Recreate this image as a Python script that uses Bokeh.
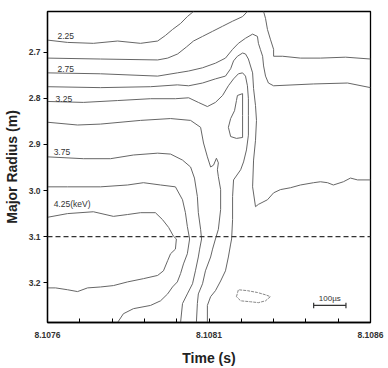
from bokeh.plotting import figure
from bokeh.models import Range1d, FixedTicker, PrintfTickFormatter, Span
from bokeh.embed import file_html
from bokeh.resources import INLINE
from bokeh.core.properties import value

# ---- axis data ----
x_ticks = [8.1076, 8.1081, 8.1086]
x_minor = [8.1077, 8.1078, 8.1079, 8.1080, 8.1082, 8.1083, 8.1084, 8.1085]
y_ticks = [2.7, 2.8, 2.9, 3.0, 3.1, 3.2]
t_min, t_max = 8.1076, 8.1086
r_top, r_bottom = 2.612, 3.286

# ---- contour lines (time s, major radius m) ----
t_225 = [8.107600, 8.107662, 8.107742, 8.107817, 8.107888, 8.107941, 8.107965, 8.107987, 8.108012, 8.108033, 8.108052]
r_225 = [2.674, 2.679, 2.681, 2.676, 2.681, 2.676, 2.664, 2.651, 2.638, 2.623, 2.612]

t_250a = [8.107600, 8.107764, 8.107941, 8.107972, 8.108003, 8.108030, 8.108052, 8.108080, 8.108111, 8.108142, 8.108173, 8.108204, 8.108219]
r_250a = [2.713, 2.715, 2.717, 2.713, 2.704, 2.689, 2.676, 2.666, 2.655, 2.644, 2.633, 2.623, 2.612]

t_250b = [8.108269, 8.108275, 8.108281, 8.108290, 8.108300, 8.108300, 8.108328, 8.108383, 8.108445, 8.108523, 8.108600]
r_250b = [2.612, 2.627, 2.651, 2.672, 2.694, 2.709, 2.709, 2.713, 2.713, 2.711, 2.715]

t_275 = [8.107600, 8.107764, 8.107941, 8.108002, 8.108037, 8.108080, 8.108120, 8.108151, 8.108173, 8.108191, 8.108213,
         8.108235, 8.108250, 8.108253, 8.108259, 8.108266, 8.108269, 8.108275, 8.108284, 8.108300, 8.108424, 8.108529, 8.108600]
r_275 = [2.745, 2.747, 2.752, 2.745, 2.741, 2.734, 2.724, 2.713, 2.694, 2.681, 2.670,
         2.661, 2.666, 2.681, 2.694, 2.709, 2.730, 2.752, 2.767, 2.773, 2.769, 2.767, 2.777]

t_300 = [8.107600, 8.107764, 8.107919, 8.108002, 8.108037, 8.108080, 8.108120, 8.108151, 8.108167, 8.108176, 8.108188, 8.108204,
         8.108213, 8.108222, 8.108235, 8.108238, 8.108244, 8.108247, 8.108244, 8.108238, 8.108235, 8.108244, 8.108253, 8.108281,
         8.108300, 8.108321, 8.108352, 8.108383, 8.108424, 8.108445, 8.108467, 8.108485, 8.108516, 8.108538, 8.108560, 8.108600]
r_300 = [2.775, 2.777, 2.775, 2.771, 2.773, 2.767, 2.758, 2.752, 2.736, 2.719, 2.709, 2.702,
         2.704, 2.715, 2.745, 2.779, 2.816, 2.848, 2.891, 2.934, 2.992, 3.035, 3.030, 3.020,
         3.005, 2.998, 2.994, 2.988, 2.983, 2.981, 2.983, 2.988, 2.981, 2.973, 2.977, 2.977]

t_325 = [8.107600, 8.107711, 8.107817, 8.107919, 8.107996, 8.108037, 8.108067, 8.108095, 8.108120, 8.108142, 8.108160, 8.108176,
         8.108191, 8.108204, 8.108213, 8.108219, 8.108222, 8.108222, 8.108222, 8.108216, 8.108207, 8.108198, 8.108176, 8.108173,
         8.108173, 8.108170, 8.108167, 8.108160, 8.108151, 8.108136, 8.108120, 8.108105, 8.108095, 8.108095]
r_325 = [2.807, 2.809, 2.805, 2.801, 2.801, 2.799, 2.809, 2.818, 2.809, 2.794, 2.773, 2.758,
         2.747, 2.745, 2.752, 2.773, 2.801, 2.837, 2.880, 2.912, 2.938, 2.955, 2.977, 3.013,
         3.063, 3.105, 3.116, 3.144, 3.174, 3.196, 3.217, 3.230, 3.249, 3.286]

t_350 = [8.107600, 8.107693, 8.107764, 8.107888, 8.107981, 8.108043, 8.108074, 8.108083, 8.108095, 8.108105, 8.108114, 8.108123,
         8.108129, 8.108126, 8.108129, 8.108136, 8.108136, 8.108129, 8.108120, 8.108111, 8.108105, 8.108089, 8.108080, 8.108067,
         8.108064, 8.108061]
r_350 = [2.852, 2.858, 2.856, 2.848, 2.844, 2.848, 2.863, 2.897, 2.927, 2.949, 2.945, 2.930,
         2.940, 2.955, 2.970, 2.998, 3.041, 3.084, 3.105, 3.127, 3.144, 3.174, 3.202, 3.224,
         3.245, 3.286]

t_375 = [8.107600, 8.107711, 8.107795, 8.107866, 8.107941, 8.107981, 8.108018, 8.108043, 8.108055, 8.108064, 8.108067, 8.108074,
         8.108077, 8.108071, 8.108067, 8.108058, 8.108049, 8.108033, 8.108018, 8.108012]
r_375 = [2.927, 2.931, 2.931, 2.923, 2.919, 2.921, 2.934, 2.949, 2.973, 3.013, 3.048, 3.084,
         3.105, 3.127, 3.144, 3.174, 3.202, 3.224, 3.245, 3.286]

t_400 = [8.107600, 8.107662, 8.107764, 8.107848, 8.107897, 8.107950, 8.107996, 8.108018, 8.108027, 8.108033, 8.108040,
         8.108033, 8.108021, 8.108012, 8.108002, 8.107987, 8.107972, 8.107950, 8.107919, 8.107866, 8.107835, 8.107817]
r_400 = [2.992, 2.992, 2.992, 2.988, 2.983, 2.988, 2.992, 3.020, 3.048, 3.078, 3.105,
         3.137, 3.159, 3.180, 3.198, 3.209, 3.224, 3.239, 3.249, 3.256, 3.267, 3.286]

t_425 = [8.107600, 8.107662, 8.107742, 8.107804, 8.107848, 8.107888, 8.107934, 8.107956, 8.107975, 8.107990, 8.107999, 8.107996,
         8.107981, 8.107972, 8.107959, 8.107941, 8.107897, 8.107848, 8.107804, 8.107764, 8.107724, 8.107693, 8.107662, 8.107625,
         8.107600]
r_425 = [3.058, 3.050, 3.046, 3.056, 3.052, 3.048, 3.048, 3.063, 3.080, 3.099, 3.105, 3.127,
         3.137, 3.152, 3.174, 3.184, 3.191, 3.198, 3.206, 3.209, 3.211, 3.219, 3.215, 3.211,
         3.211]

t_island = [8.108188, 8.108204, 8.108204, 8.108204, 8.108185, 8.108167, 8.108160, 8.108167, 8.108179, 8.108185, 8.108188]
r_island = [2.794, 2.790, 2.837, 2.885, 2.887, 2.883, 2.863, 2.844, 2.827, 2.805, 2.794]

t_blob = [8.108185, 8.108191, 8.108219, 8.108250, 8.108275, 8.108290, 8.108275, 8.108253, 8.108228, 8.108198, 8.108185]
r_blob = [3.230, 3.215, 3.217, 3.221, 3.226, 3.230, 3.239, 3.243, 3.241, 3.239, 3.230]

# ---- contour labels ----
label_text = ["2.25", "2.75", "3.25", "3.75", "4.25(keV)"]
label_t = [8.107631, 8.107631, 8.107625, 8.107619, 8.107619]
label_r = [2.665, 2.736, 2.801, 2.917, 3.030]

# ---- reference radius (dashed) and scale bar ----
dashed_radius = 3.1
scale_start = 8.108424
scale_len = 0.0001
scale_r = 3.249
scale_label = "100µs"

p = figure(width=388, height=368, output_backend="svg", toolbar_location=None,
           x_range=Range1d(t_min, t_max), y_range=Range1d(r_bottom, r_top),
           min_border_left=47, min_border_right=18, min_border_top=11, min_border_bottom=44,
           background_fill_color="white", border_fill_color="white")
p.xgrid.visible = False
p.ygrid.visible = False
p.outline_line_color = "black"
p.outline_line_width = 1.3

line_col = "#666666"
for tt, rr in [(t_225, r_225), (t_250a, r_250a), (t_250b, r_250b), (t_275, r_275), (t_300, r_300),
               (t_325, r_325), (t_350, r_350), (t_375, r_375), (t_400, r_400), (t_425, r_425),
               (t_island, r_island)]:
    p.line(tt, rr, line_color=line_col, line_width=1)
p.line(t_blob, r_blob, line_color="#888888", line_width=1, line_dash="3 1")

p.add_layout(Span(location=dashed_radius, dimension="width", line_color="#333333",
                  line_width=1.2, line_dash="5 3"))

p.text(label_t, label_r, text=label_text, text_font=value("Liberation Sans"),
       text_font_size="8.5px", text_color="#333333", text_align="left", text_baseline="middle")

# scale bar
p.segment([scale_start], [scale_r], [scale_start + scale_len], [scale_r], line_color="#333333", line_width=1.2)
p.segment([scale_start, scale_start + scale_len], [scale_r - 0.006, scale_r - 0.006],
          [scale_start, scale_start + scale_len], [scale_r + 0.006, scale_r + 0.006],
          line_color="#333333", line_width=1.2)
p.text([scale_start + scale_len / 2], [scale_r - 0.005], text=[scale_label], text_font=value("Liberation Sans"),
       text_font_size="8px", text_color="#333333", text_align="center", text_baseline="bottom")

# axes
p.xaxis.ticker = FixedTicker(ticks=x_ticks, minor_ticks=x_minor)
p.xaxis.formatter = PrintfTickFormatter(format="%.4f")
p.yaxis.ticker = FixedTicker(ticks=y_ticks)
p.yaxis.formatter = PrintfTickFormatter(format="%.1f")
p.xaxis.axis_label = "Time (s)"
p.yaxis.axis_label = "Major Radius (m)"

for ax in (p.xaxis[0], p.yaxis[0]):
    ax.axis_line_color = "black"
    ax.axis_line_width = 1.3
    ax.major_tick_line_color = "black"
    ax.minor_tick_line_color = "black"
    ax.major_label_text_font = "Liberation Sans"
    ax.major_label_text_font_style = "bold"
    ax.major_label_text_font_size = "8.5px"
    ax.major_label_text_color = "#333333"
    ax.axis_label_text_font = "Liberation Sans"
    ax.axis_label_text_font_style = "bold"
    ax.axis_label_text_font_size = "14px"
    ax.axis_label_text_color = "#222222"

p.xaxis.major_tick_in = 4
p.xaxis.major_tick_out = 0
p.xaxis.minor_tick_in = 4
p.xaxis.minor_tick_out = 0
p.xaxis.major_label_standoff = 9
p.xaxis.axis_label_standoff = 9

p.yaxis.major_tick_in = 0
p.yaxis.major_tick_out = 4
p.yaxis.minor_tick_line_color = None
p.yaxis.major_label_standoff = 3
p.yaxis.axis_label_standoff = 6

open("out.html", "w").write(file_html(p, INLINE))
